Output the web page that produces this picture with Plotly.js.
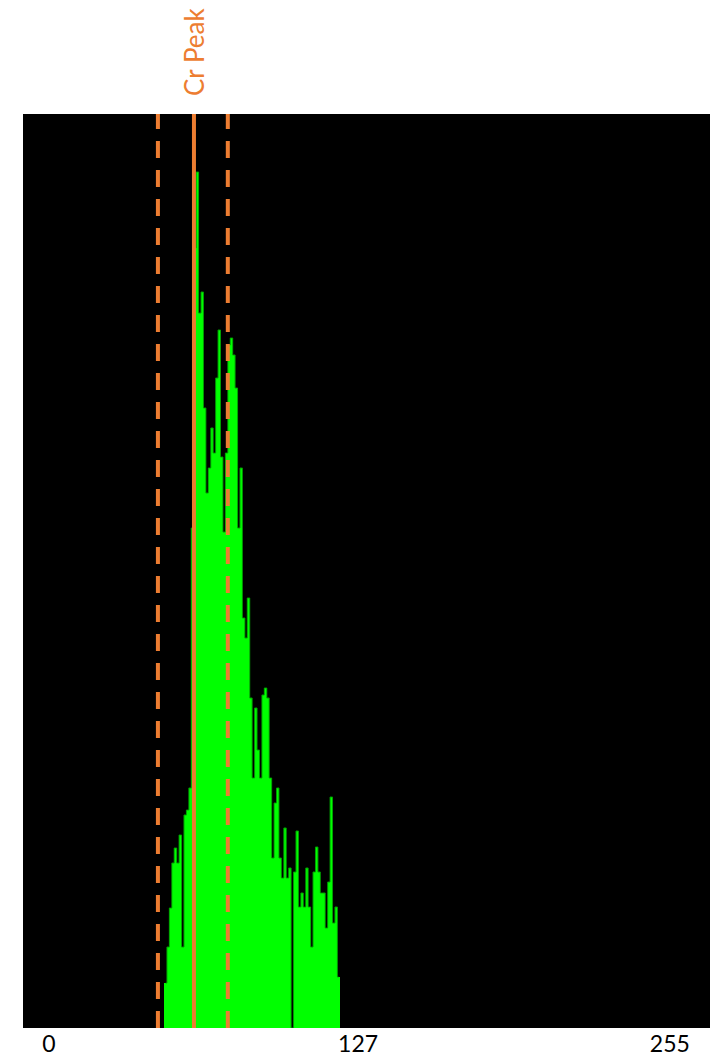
<!DOCTYPE html>
<html>
<head>
<meta charset="utf-8">
<script src="https://cdn.plot.ly/plotly-3.0.1.min.js"></script>
<style>html,body{margin:0;padding:0;background:#fff;}#chart{width:726px;height:1058px;}</style>
</head>
<body>
<div id="chart"></div>
<script>
// Intensity bins (0-255 scale) and their counts (arbitrary units)
const bins = [48,49,50,51,52,53,54,55,56,57,58,59,60,61,62,63,64,65,66,67,68,69,70,71,72,73,74,75,76,77,78,79,80,81,82,83,84,85,86,87,88,89,90,91,92,93,94,95,96,97,98,99,100,101,102,103,104,105,106,107,108,109,110,111,112,113,114,115,116,117,118,119];
const counts = [45,81,120,165,180,165,193,81,213,218,240,500,780,856,715,736,620,535,560,600,575,650,698,571,496,575,683,690,673,640,500,560,410,390,430,330,250,320,278,250,333,340,330,250,170,225,240,170,150,200,150,160,0,156,197,121,135,121,160,121,81,156,181,156,135,135,100,146,231,105,121,51];
const tickValues = [0,127,255];
const tickLabels = ["0","127","255"];
const peakValue = 59.6;
const lowerBound = 44.8;
const upperBound = 73.5;
const peakLabel = "Cr Peak";

const orange = "#ED7D31";

const bars = {
  type: "bar",
  x: bins,
  y: counts,
  width: 1,
  marker: {color: "#00FF00", line: {width: 0}},
  hoverinfo: "x+y"
};

// dark green step outline of the same histogram
const outline = {
  type: "scatter",
  mode: "lines",
  x: bins,
  y: counts,
  line: {shape: "hvh", color: "#00A000", width: 1},
  hoverinfo: "skip"
};

const layout = {
  width: 726,
  height: 1058,
  margin: {l: 23, r: 16, t: 114, b: 30},
  paper_bgcolor: "#ffffff",
  plot_bgcolor: "#000000",
  showlegend: false,
  bargap: 0,
  xaxis: {
    range: [-10.6, 271.5],
    tickvals: tickValues,
    ticktext: tickLabels,
    ticks: "",
    showgrid: false,
    zeroline: false,
    showline: false,
    tickfont: {family: "Lato, 'Open Sans', sans-serif", size: 23, color: "#000000"}
  },
  yaxis: {
    range: [0, 914],
    showticklabels: false,
    ticks: "",
    showgrid: false,
    zeroline: false,
    showline: false
  },
  shapes: [
    {type: "line", xref: "x", yref: "paper", x0: lowerBound, x1: lowerBound, y0: 0, y1: 1,
     line: {color: orange, width: 4, dash: "17px,12px"}},
    {type: "line", xref: "x", yref: "paper", x0: upperBound, x1: upperBound, y0: 0, y1: 1,
     line: {color: orange, width: 4, dash: "17px,12px"}},
    {type: "line", xref: "x", yref: "paper", x0: peakValue, x1: peakValue, y0: 0, y1: 1,
     line: {color: orange, width: 4}}
  ],
  annotations: [
    {x: peakValue, xref: "x", y: 1, yref: "paper", yanchor: "bottom", xanchor: "center",
     text: peakLabel, showarrow: false, textangle: -90, yshift: 16,
     font: {family: "Lato, 'Open Sans', sans-serif", size: 26, color: orange}}
  ]
};

Plotly.newPlot("chart", [bars, outline], layout, {displayModeBar: false, staticPlot: true});
</script>
</body>
</html>
